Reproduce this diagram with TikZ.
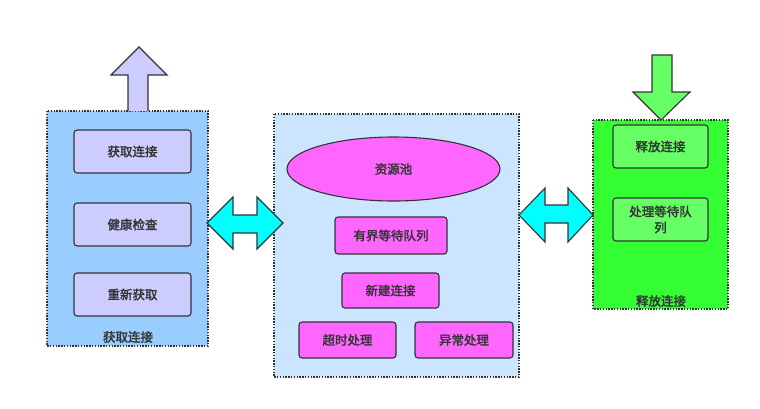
\documentclass[tikz,border=0pt]{standalone}
\usepackage{fontspec}
\setmainfont{Noto Sans CJK SC}[AutoFakeBold=2]
\usetikzlibrary{shapes.geometric}
\definecolor{getblue}{RGB}{153,204,255}
\definecolor{poolblue}{RGB}{204,229,255}
\definecolor{lilac}{RGB}{204,204,255}
\definecolor{pink}{RGB}{255,102,255}
\definecolor{relgreen}{RGB}{51,255,51}
\definecolor{litegreen}{RGB}{102,255,102}
\definecolor{aqua}{RGB}{0,255,255}
\definecolor{ink}{RGB}{51,51,51}
\tikzset{
  box/.style={draw=ink, line width=1.1pt, rounded corners=3pt, font=\bfseries\fontsize{12.5}{16}\selectfont, text=ink, align=center, inner sep=0pt},
  frame/.style={draw=ink, line width=1.1pt, dash pattern=on 1.4pt off 1.4pt},
  blockarrow/.style={draw=ink, line width=1.1pt, line join=miter},
  tag/.style={font=\bfseries\fontsize{12.5}{16}\selectfont, text=ink}
}
\begin{document}
\begin{tikzpicture}[x=1pt, y=-1pt]
			%%%%% START %%%%%
			\useasboundingbox (0,0) rectangle (760,408);
			
			% left: getting
			\draw[frame, fill=getblue] (47,111) rectangle (208,346);
			\node[box, fill=lilac, minimum width=117pt, minimum height=43pt] (get) at (132.5,151.5) {获取连接};
			\node[box, fill=lilac, minimum width=117pt, minimum height=43pt] (check) at (132.5,224.5) {健康检查};
			\node[box, fill=lilac, minimum width=117pt, minimum height=43pt] (retry) at (132.5,294.5) {重新获取};
			\node[tag] (getlabel) at (128,337) {获取连接};
			\draw[blockarrow, fill=lilac] (128,111) -- (128,75) -- (111,75) -- (139,47) -- (167,75) -- (148,75) -- (148,111);
			
			% middle: pool
			\draw[frame, fill=poolblue] (274,114) rectangle (519,377);
			\node[ellipse, draw=ink, line width=1.1pt, fill=pink, minimum width=213pt, minimum height=64pt, tag] (pool) at (393.5,169) {资源池};
			\node[box, fill=pink, minimum width=112pt, minimum height=37pt] (queue) at (391,235.5) {有界等待队列};
			\node[box, fill=pink, minimum width=97pt, minimum height=35pt] (create) at (390.5,290.5) {新建连接};
			\node[box, fill=pink, minimum width=97pt, minimum height=36pt] (timeout) at (347.5,340) {超时处理};
			\node[box, fill=pink, minimum width=98pt, minimum height=36pt] (error) at (464,340) {异常处理};
			
			% right: releasing
			\draw[frame, fill=relgreen] (593,120) rectangle (728,309);
			\node[box, fill=litegreen, minimum width=95pt, minimum height=43pt] (release) at (660.5,146.5) {释放连接};
			\node[box, fill=litegreen, minimum width=95pt, minimum height=43pt] (handle) at (660.5,219.5) {处理等待队\\列};
			\node[tag] (rellabel) at (661,301) {释放连接};
			\draw[blockarrow, fill=litegreen] (652,55) -- (672,55) -- (672,92) -- (690,92) -- (661,120) -- (633,92) -- (652,92) -- cycle;
			
			% double arrows
			\draw[blockarrow, fill=aqua] (207,223) -- (233,197) -- (233,215) -- (257,215) -- (257,197) -- (283,223)
			  -- (257,249) -- (257,233) -- (233,233) -- (233,249) -- cycle;
			\draw[blockarrow, fill=aqua] (519,215) -- (545,188) -- (545,205) -- (568,205) -- (568,188) -- (593,215)
			  -- (568,242) -- (568,223) -- (545,223) -- (545,242) -- cycle;
			%%%%% END %%%%%
		\end{tikzpicture}
\end{document}
